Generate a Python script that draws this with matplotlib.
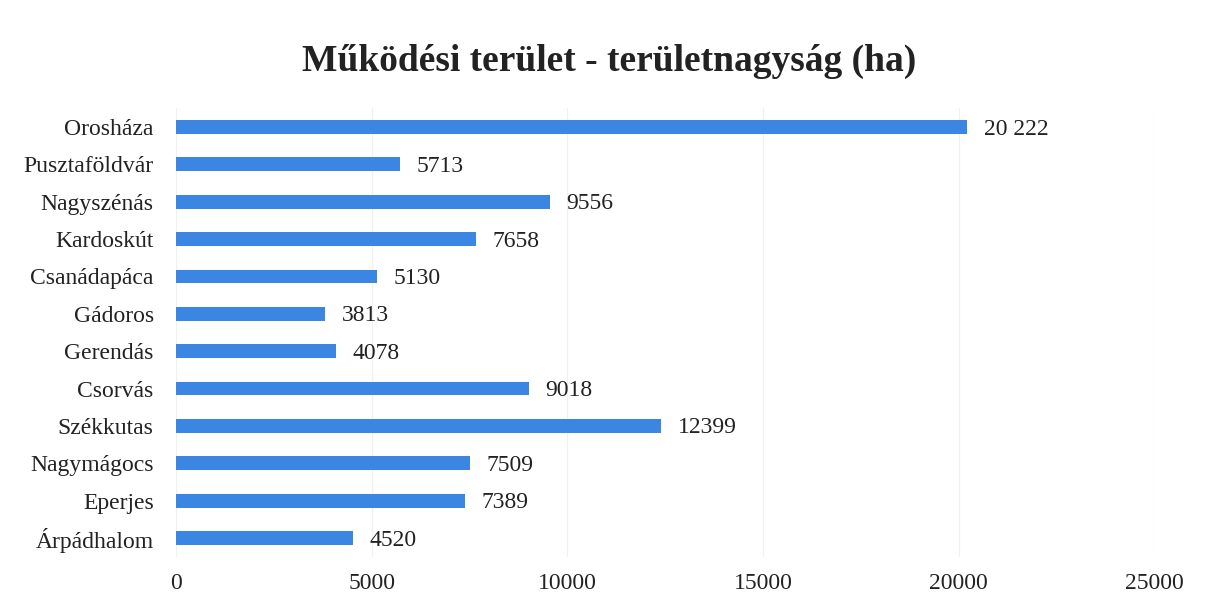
import matplotlib.pyplot as plt

# Adatok
telepulesek = ['Orosháza', 'Pusztaföldvár', 'Nagyszénás', 'Kardoskút', 'Csanádapáca',
               'Gádoros', 'Gerendás', 'Csorvás', 'Székkutas', 'Nagymágocs',
               'Eperjes', 'Árpádhalom']
terulet = [20222, 5713, 9556, 7658, 5130, 3813, 4078, 9018, 12399, 7509, 7389, 4520]
cimkek = ['20 222', '5713', '9556', '7658', '5130', '3813', '4078', '9018',
          '12399', '7509', '7389', '4520']
x_tickek = [0, 5000, 10000, 15000, 20000, 25000]

plt.rcParams['font.family'] = ['Liberation Serif', 'DejaVu Serif']
szin = '#3b86e2'
szoveg = '#222222'

fig = plt.figure(figsize=(12.11, 6.09), dpi=100)
ax = fig.add_axes([0.1453, 0.0859, 0.808, 0.7363])

y = range(len(telepulesek))
ax.barh(y, terulet, height=0.37, color=szin, zorder=2)

for i, (v, c) in enumerate(zip(terulet, cimkek)):
    ax.annotate(c, (v, i), xytext=(12, -1.5), textcoords='offset points',
                ha='left', va='center', fontsize=17, color=szoveg)

ax.set_xlim(0, 25000)
ax.set_ylim(len(telepulesek) - 0.5, -0.5)
ax.set_yticks(list(y))
ax.set_yticklabels(telepulesek, fontsize=17, color=szoveg)
ax.set_xticks(x_tickek)
ax.set_xticklabels([str(t) for t in x_tickek], fontsize=17, color=szoveg)
ax.tick_params(axis='y', length=0, pad=16)
ax.tick_params(axis='x', length=0, pad=12)

ax.grid(axis='x', color='#f0f0f5', linewidth=0.9, zorder=0)
for s in ax.spines.values():
    s.set_visible(False)

fig.text(0.503, 0.899, 'Működési terület - területnagyság (ha)', ha='center', va='center',
         fontsize=27, fontweight='bold', color=szoveg)

fig.savefig('out.png', dpi=100, facecolor='white')
